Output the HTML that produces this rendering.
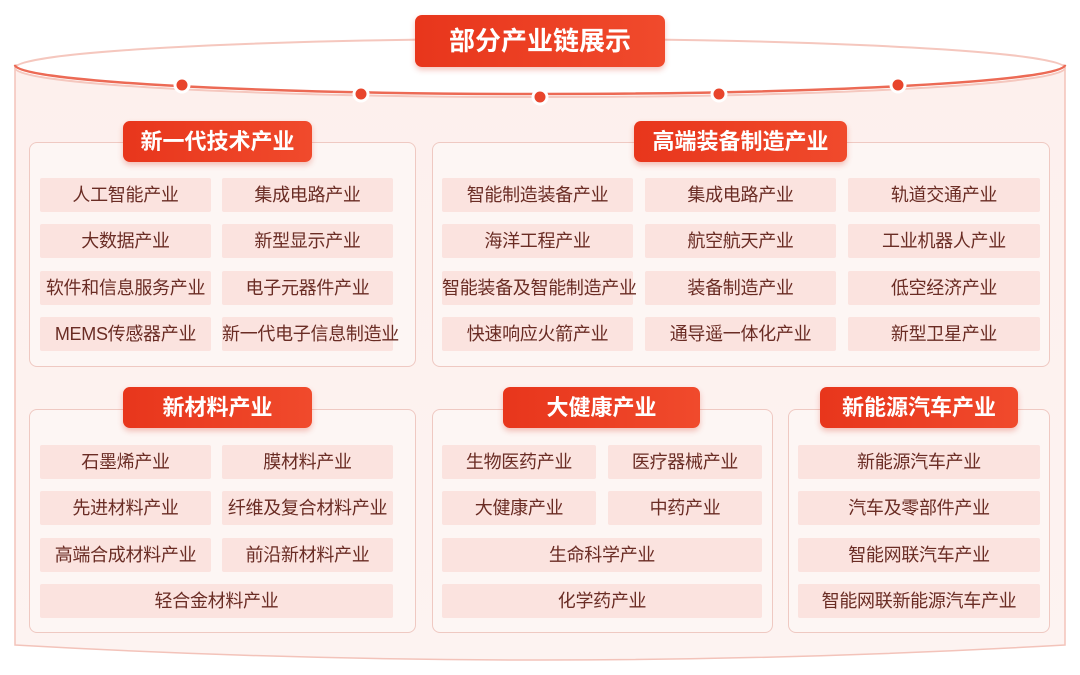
<!DOCTYPE html><html><head><meta charset="utf-8"><style>
*{margin:0;padding:0;box-sizing:border-box}
body{width:1080px;height:675px;background:#fff;position:relative;overflow:hidden;font-family:"Liberation Sans","Noto Sans CJK SC",sans-serif}
.a{position:absolute}
.panel{position:absolute;border:1px solid #efc9c2;border-radius:8px;background:#fdf6f4}
.hd{position:absolute;height:41px;border-radius:7px;background:linear-gradient(90deg,#e8361c,#f04a2c);color:#fff;font-weight:bold;font-size:22px;text-align:center;line-height:41px;box-shadow:0 3px 6px rgba(220,60,40,.3)}
.c{position:absolute;height:34px;background:#fbe3df;color:#6a2c24;font-size:18px;text-align:center;line-height:34px;border-radius:2px;white-space:nowrap;letter-spacing:-0.3px}
</style></head><body>
<svg class="a" style="left:0;top:0" width="1080" height="675">
<defs><linearGradient id="g" x1="0" y1="0" x2="0" y2="1"><stop offset="0" stop-color="#fdf0ed"/><stop offset="1" stop-color="#fdf3f1"/></linearGradient></defs>
<path d="M15 65 L15 645 Q540 675 1065 645 L1065 65 Z" fill="url(#g)" stroke="#f3c3ba" stroke-width="1.5"/>
<ellipse cx="540" cy="68" rx="525" ry="29" fill="#fff" stroke="#f5c7be" stroke-width="2"/>
<path d="M15 65 A525 29 0 0 0 1065 65" fill="none" stroke="#ec6a55" stroke-width="2.5"/>
<g fill="#e8452c" stroke="#fff" stroke-width="3">
<circle cx="182" cy="85" r="7"/><circle cx="361" cy="94" r="7"/><circle cx="540" cy="97" r="7"/><circle cx="719" cy="94" r="7"/><circle cx="898" cy="85" r="7"/></g>
</svg>
<div class="hd" style="left:415px;top:15px;width:250px;height:52px;line-height:52px;font-size:26px">部分产业链展示</div>

<div class="panel" style="left:29px;top:142px;width:387px;height:225px"></div>
<div class="hd" style="left:123px;top:121px;width:189px">新一代技术产业</div>
<div class="c" style="left:40px;top:178px;width:171px">人工智能产业</div>
<div class="c" style="left:222px;top:178px;width:171px">集成电路产业</div>
<div class="c" style="left:40px;top:224px;width:171px">大数据产业</div>
<div class="c" style="left:222px;top:224px;width:171px">新型显示产业</div>
<div class="c" style="left:40px;top:271px;width:171px">软件和信息服务产业</div>
<div class="c" style="left:222px;top:271px;width:171px">电子元器件产业</div>
<div class="c" style="left:40px;top:317px;width:171px">MEMS传感器产业</div>
<div class="c" style="left:222px;top:317px;width:171px">新一代电子信息制造业</div>

<div class="panel" style="left:432px;top:142px;width:618px;height:225px"></div>
<div class="hd" style="left:634px;top:121px;width:213px">高端装备制造产业</div>
<div class="c" style="left:442px;top:178px;width:191px">智能制造装备产业</div>
<div class="c" style="left:645px;top:178px;width:191px">集成电路产业</div>
<div class="c" style="left:848px;top:178px;width:192px">轨道交通产业</div>
<div class="c" style="left:442px;top:224px;width:191px">海洋工程产业</div>
<div class="c" style="left:645px;top:224px;width:191px">航空航天产业</div>
<div class="c" style="left:848px;top:224px;width:192px">工业机器人产业</div>
<div class="c" style="left:442px;top:271px;width:191px">智能装备及智能制造产业</div>
<div class="c" style="left:645px;top:271px;width:191px">装备制造产业</div>
<div class="c" style="left:848px;top:271px;width:192px">低空经济产业</div>
<div class="c" style="left:442px;top:317px;width:191px">快速响应火箭产业</div>
<div class="c" style="left:645px;top:317px;width:191px">通导遥一体化产业</div>
<div class="c" style="left:848px;top:317px;width:192px">新型卫星产业</div>

<div class="panel" style="left:29px;top:409px;width:387px;height:224px"></div>
<div class="hd" style="left:123px;top:387px;width:189px">新材料产业</div>
<div class="c" style="left:40px;top:445px;width:171px">石墨烯产业</div>
<div class="c" style="left:222px;top:445px;width:171px">膜材料产业</div>
<div class="c" style="left:40px;top:491px;width:171px">先进材料产业</div>
<div class="c" style="left:222px;top:491px;width:171px">纤维及复合材料产业</div>
<div class="c" style="left:40px;top:538px;width:171px">高端合成材料产业</div>
<div class="c" style="left:222px;top:538px;width:171px">前沿新材料产业</div>
<div class="c" style="left:40px;top:584px;width:353px">轻合金材料产业</div>

<div class="panel" style="left:432px;top:409px;width:341px;height:224px"></div>
<div class="hd" style="left:503px;top:387px;width:197px">大健康产业</div>
<div class="c" style="left:442px;top:445px;width:154px">生物医药产业</div>
<div class="c" style="left:608px;top:445px;width:154px">医疗器械产业</div>
<div class="c" style="left:442px;top:491px;width:154px">大健康产业</div>
<div class="c" style="left:608px;top:491px;width:154px">中药产业</div>
<div class="c" style="left:442px;top:538px;width:320px">生命科学产业</div>
<div class="c" style="left:442px;top:584px;width:320px">化学药产业</div>

<div class="panel" style="left:788px;top:409px;width:262px;height:224px"></div>
<div class="hd" style="left:820px;top:387px;width:198px">新能源汽车产业</div>
<div class="c" style="left:798px;top:445px;width:242px">新能源汽车产业</div>
<div class="c" style="left:798px;top:491px;width:242px">汽车及零部件产业</div>
<div class="c" style="left:798px;top:538px;width:242px">智能网联汽车产业</div>
<div class="c" style="left:798px;top:584px;width:242px">智能网联新能源汽车产业</div>
</body></html>
